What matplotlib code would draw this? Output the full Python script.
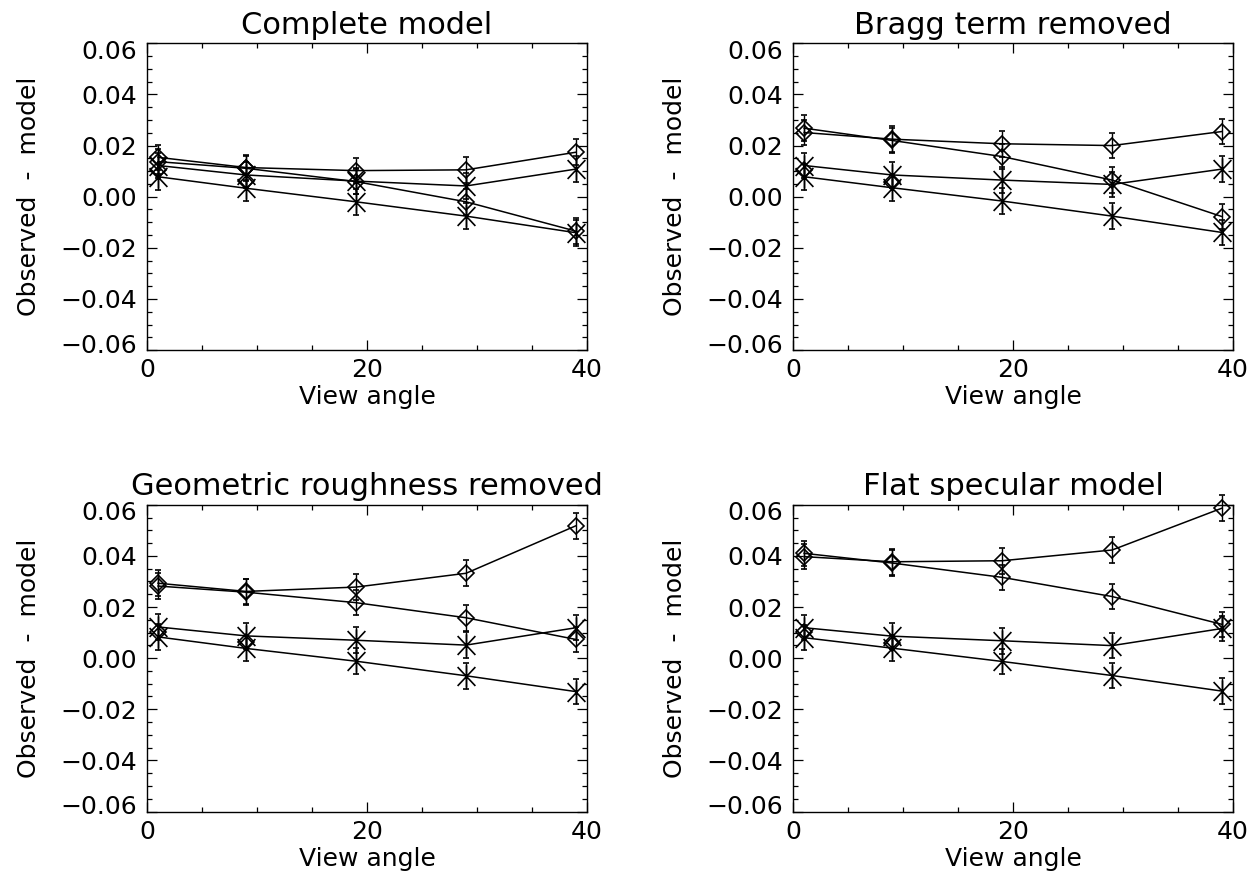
import numpy as np
import matplotlib.pyplot as plt
from matplotlib.path import Path
from matplotlib.ticker import MultipleLocator
from matplotlib.transforms import ScaledTranslation

# view angles of the five measurements
angle = [1, 9, 19, 29, 39]

titles = ['Complete model', 'Bragg term removed',
          'Geometric roughness removed', 'Flat specular model']

# diamond series, one row per panel
dia_a = [[0.0154, 0.0114, 0.0102, 0.0105, 0.0174],
         [0.0251, 0.0225, 0.0207, 0.0200, 0.0255],
         [0.0293, 0.0261, 0.0278, 0.0332, 0.0518],
         [0.0397, 0.0377, 0.0381, 0.0423, 0.0587]]
dia_b = [[0.0137, 0.0111, 0.0059, -0.0020, -0.0135],
         [0.0268, 0.0220, 0.0157, 0.0065, -0.0078],
         [0.0282, 0.0258, 0.0217, 0.0158, 0.0073],
         [0.0410, 0.0372, 0.0316, 0.0241, 0.0132]]
# asterisk series
star_a = [[0.0122, 0.0085, 0.0061, 0.0042, 0.0108],
          [0.0122, 0.0085, 0.0065, 0.0048, 0.0108],
          [0.0122, 0.0087, 0.0070, 0.0051, 0.0119],
          [0.0119, 0.0086, 0.0068, 0.0049, 0.0116]]
star_b = [[0.0078, 0.0033, -0.0020, -0.0076, -0.0141],
          [0.0078, 0.0035, -0.0017, -0.0076, -0.0140],
          [0.0083, 0.0038, -0.0012, -0.0069, -0.0131],
          [0.0080, 0.0039, -0.0013, -0.0068, -0.0129]]
# lone diamonds at the first two angles
extra_x = [1, 9]
extra = [[0.0106, 0.0060],
         [0.0105, 0.0059],
         [0.0103, 0.0064],
         [0.0103, 0.0061]]

err_dia = [0.005, 0.005, 0.005, 0.005, 0.005]
err_star = [0.005, 0.005, 0.005, 0.005, 0.005]

yticks = [-0.06, -0.04, -0.02, 0.0, 0.02, 0.04, 0.06]
ylabels = ['\u22120.06', '\u22120.04', '\u22120.02', '0.00', '0.02', '0.04', '0.06']

# IDL style asterisk: vertical bar plus two diagonals
star = Path([(0, -1), (0, 1), (-0.8, -0.85), (0.8, 0.85), (-0.8, 0.85), (0.8, -0.85)],
            [Path.MOVETO, Path.LINETO] * 3)

plt.rcParams['font.family'] = 'DejaVu Sans'

fig = plt.figure(figsize=(12.57, 8.84), dpi=100)
pos = [[0.117, 0.604], [0.631, 0.604], [0.117, 0.082], [0.631, 0.082]]

for i in range(4):
    ax = fig.add_axes([pos[i][0], pos[i][1], 0.350, 0.347])
    kw = dict(color='black', lw=1.1, capsize=2.5, elinewidth=1.0,
              capthick=1.0, clip_on=False)
    for yy, mk, ms, ee in [(dia_a[i], 'D', 8.5, err_dia), (dia_b[i], 'D', 8.5, err_dia),
                           (star_a[i], star, 16, err_star), (star_b[i], star, 16, err_star)]:
        ln, caps, bars = ax.errorbar(angle, yy, yerr=ee, marker=mk, ms=ms, mfc='none',
                                     mec='black', mew=1.2, **kw)
        for c in caps:
            c.set_clip_on(False)
        for b in bars:
            b.set_clip_on(False)
    ax.plot(extra_x, extra[i], ls='none', marker='D', ms=8.5, mfc='none',
            mec='black', mew=1.2, clip_on=False)

    ax.set_xlim(0, 40)
    ax.set_ylim(-0.06, 0.06)
    ax.set_xticks([0, 20, 40])
    ax.set_xticklabels(['0', '20', '40'])
    ax.xaxis.set_minor_locator(MultipleLocator(5))
    ax.set_yticks(yticks)
    ax.set_yticklabels(ylabels)
    ax.yaxis.set_minor_locator(MultipleLocator(0.005))
    ax.tick_params(which='both', direction='in', top=True, right=True,
                   labelsize=18, width=0.9)
    ax.tick_params(axis='y', which='major', length=7, pad=7)
    ax.tick_params(axis='x', which='major', length=7, pad=6)
    ax.tick_params(which='minor', length=3.5)
    # end labels pulled slightly inside the box, as in the original
    ticks = ax.yaxis.get_major_ticks()
    lo = ticks[0].label1
    hi = ticks[-1].label1
    lo.set_transform(lo.get_transform() + ScaledTranslation(0, 7 / 100, fig.dpi_scale_trans))
    hi.set_transform(hi.get_transform() + ScaledTranslation(0, -6 / 100, fig.dpi_scale_trans))
    for s in ax.spines.values():
        s.set_linewidth(1.0)

    ax.set_title(titles[i], fontsize=22, pad=7)
    ax.set_xlabel('View angle', fontsize=18, labelpad=2)
    ax.set_ylabel('Observed  -  model', fontsize=18, labelpad=14)

fig.savefig('out.png', dpi=100)
